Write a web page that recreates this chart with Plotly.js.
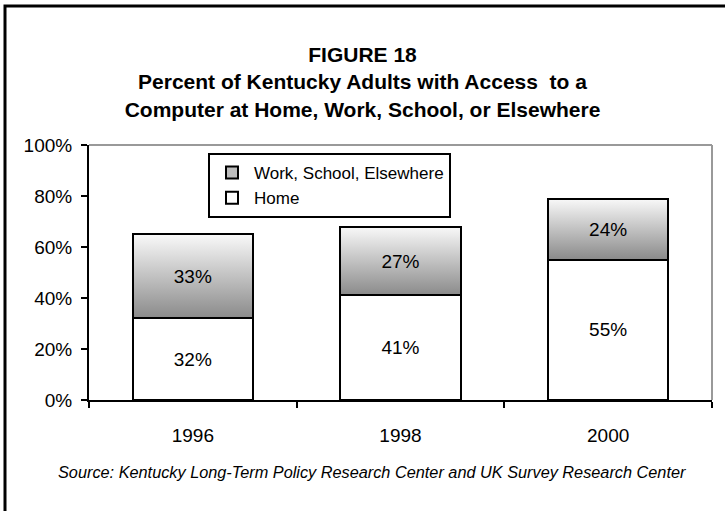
<!DOCTYPE html>
<html>
<head>
<meta charset="utf-8">
<script src="https://cdn.plot.ly/plotly-3.0.1.min.js"></script>
<style>
  html, body { margin: 0; padding: 0; background: #fff; }
  #chart { width: 725px; height: 511px; }
</style>
</head>
<body>
<div id="chart"></div>
<script>
// ---- data ----
var years = ['1996', '1998', '2000'];
var homeValues = [32, 41, 55];
var workValues = [33, 27, 24];
var seriesNames = ['Home', 'Work, School, Elsewhere'];
var titleLines = ['FIGURE 18', 'Percent of Kentucky Adults with Access \u00a0to a', 'Computer at Home, Work, School, or Elsewhere'];
var sourceText = 'Source: Kentucky Long-Term Policy Research Center and UK Survey Research Center';

var FONT = 'Liberation Sans, Arial, sans-serif';

function pct(arr) { return arr.map(function (v) { return v + '%'; }); }

var traces = [
  {
    type: 'bar', name: seriesNames[0], x: years, y: homeValues,
    text: pct(homeValues), textposition: 'inside', insidetextanchor: 'middle',
    textfont: {family: FONT, size: 19, color: '#000'},
    marker: {color: '#ffffff', line: {color: '#000', width: 2}},
    width: 0.58, hoverinfo: 'skip'
  },
  {
    type: 'bar', name: seriesNames[1], x: years, y: workValues,
    text: pct(workValues), textposition: 'inside', insidetextanchor: 'middle',
    textfont: {family: FONT, size: 19, color: '#000'},
    marker: {color: '#bdbdbd', line: {color: '#000', width: 2}},
    width: 0.58, hoverinfo: 'skip'
  }
];

var L = 89, R = 13, T = 145, B = 111, W = 725, H = 511;
var pw = W - L - R, ph = H - T - B;
function px2x(p) { return (p - L) / pw; }
function py2y(p) { return (H - B - p) / ph; }

var layout = {
  width: W, height: H,
  margin: {l: L, r: R, t: T, b: B, pad: 0},
  paper_bgcolor: '#fff', plot_bgcolor: '#fff',
  font: {family: FONT, color: '#000', size: 19},
  barmode: 'stack',
  showlegend: true,
  title: {
    text: titleLines.join('<br>'),
    font: {family: FONT, size: 21, weight: 'bold', color: '#000'},
    x: 0.5, xanchor: 'center', xref: 'container',
    y: 1 - 62 / H, yanchor: 'top', yref: 'container'
  },
  xaxis: {
    type: 'category', range: [-0.5, 2.5], fixedrange: true,
    showline: true, linecolor: '#000', linewidth: 2,
    ticks: 'outside', tickson: 'boundaries', ticklen: 6, tickwidth: 2, tickcolor: '#000',
    showgrid: false, zeroline: false,
    tickfont: {family: FONT, size: 19, color: '#000'},
    ticklabelstandoff: 17
  },
  yaxis: {
    range: [0, 100], dtick: 20, tick0: 0, ticksuffix: '%', fixedrange: true,
    showline: true, linecolor: '#000', linewidth: 2,
    ticks: 'outside', ticklen: 6, tickwidth: 2, tickcolor: '#000',
    showgrid: false, zeroline: false,
    tickfont: {family: FONT, size: 19, color: '#000'},
    ticklabelstandoff: 5
  },
  legend: {
    x: px2x(208), y: py2y(153), xanchor: 'left', yanchor: 'top',
    bgcolor: '#fff', bordercolor: '#000', borderwidth: 2,
    traceorder: 'reversed',
    font: {family: FONT, size: 17, color: '#000'},
    itemwidth: 34, tracegroupgap: 0
  },
  annotations: [{
    text: '<i>' + sourceText + '</i>',
    xref: 'paper', yref: 'paper', x: px2x(372), y: py2y(472),
    xanchor: 'center', yanchor: 'middle', showarrow: false,
    font: {family: FONT, size: 16.3, color: '#000'}
  }],
  shapes: [
    {type: 'line', xref: 'paper', yref: 'paper', x0: 0, x1: 1, y0: 1, y1: 1, line: {color: '#999', width: 2}},
    {type: 'line', xref: 'paper', yref: 'paper', x0: 1, x1: 1, y0: 0, y1: 1, line: {color: '#999', width: 2}},
    {type: 'rect', xref: 'paper', yref: 'paper', x0: px2x(5), x1: px2x(760), y0: py2y(560), y1: py2y(6),
     line: {color: '#000', width: 3}, fillcolor: 'rgba(0,0,0,0)', layer: 'above'}
  ]
};

Plotly.newPlot('chart', traces, layout, {displayModeBar: false, staticPlot: true}).then(function (gd) {
  var svg = gd.querySelector('.main-svg');
  var ns = 'http://www.w3.org/2000/svg';
  var defs = svg.querySelector('defs') || svg.insertBefore(document.createElementNS(ns, 'defs'), svg.firstChild);
  var grad = document.createElementNS(ns, 'linearGradient');
  grad.setAttribute('id', 'workGrad');
  grad.setAttribute('x1', '0'); grad.setAttribute('y1', '0');
  grad.setAttribute('x2', '0'); grad.setAttribute('y2', '1');
  [['0', '#f9f9f9'], ['1', '#8a8a8a']].forEach(function (s) {
    var st = document.createElementNS(ns, 'stop');
    st.setAttribute('offset', s[0]); st.setAttribute('stop-color', s[1]);
    grad.appendChild(st);
  });
  defs.appendChild(grad);
  var name = seriesNames[1];
  gd.querySelectorAll('.barlayer .trace').forEach(function (g) {
    var d = g.__data__;
    if (d && d[0] && d[0].trace && d[0].trace.name === name) {
      g.querySelectorAll('.point path').forEach(function (p) { p.style.fill = 'url(#workGrad)'; });
    }
  });
  gd.querySelectorAll('.legend .traces').forEach(function (g) {
    var d = g.__data__;
    if (d && d[0] && d[0][0] && d[0][0].trace && d[0][0].trace.name === name) {
      g.querySelectorAll('.legendpoints path').forEach(function (p) { p.style.fill = 'url(#workGrad)'; });
    }
  });
});
</script>
</body>
</html>
